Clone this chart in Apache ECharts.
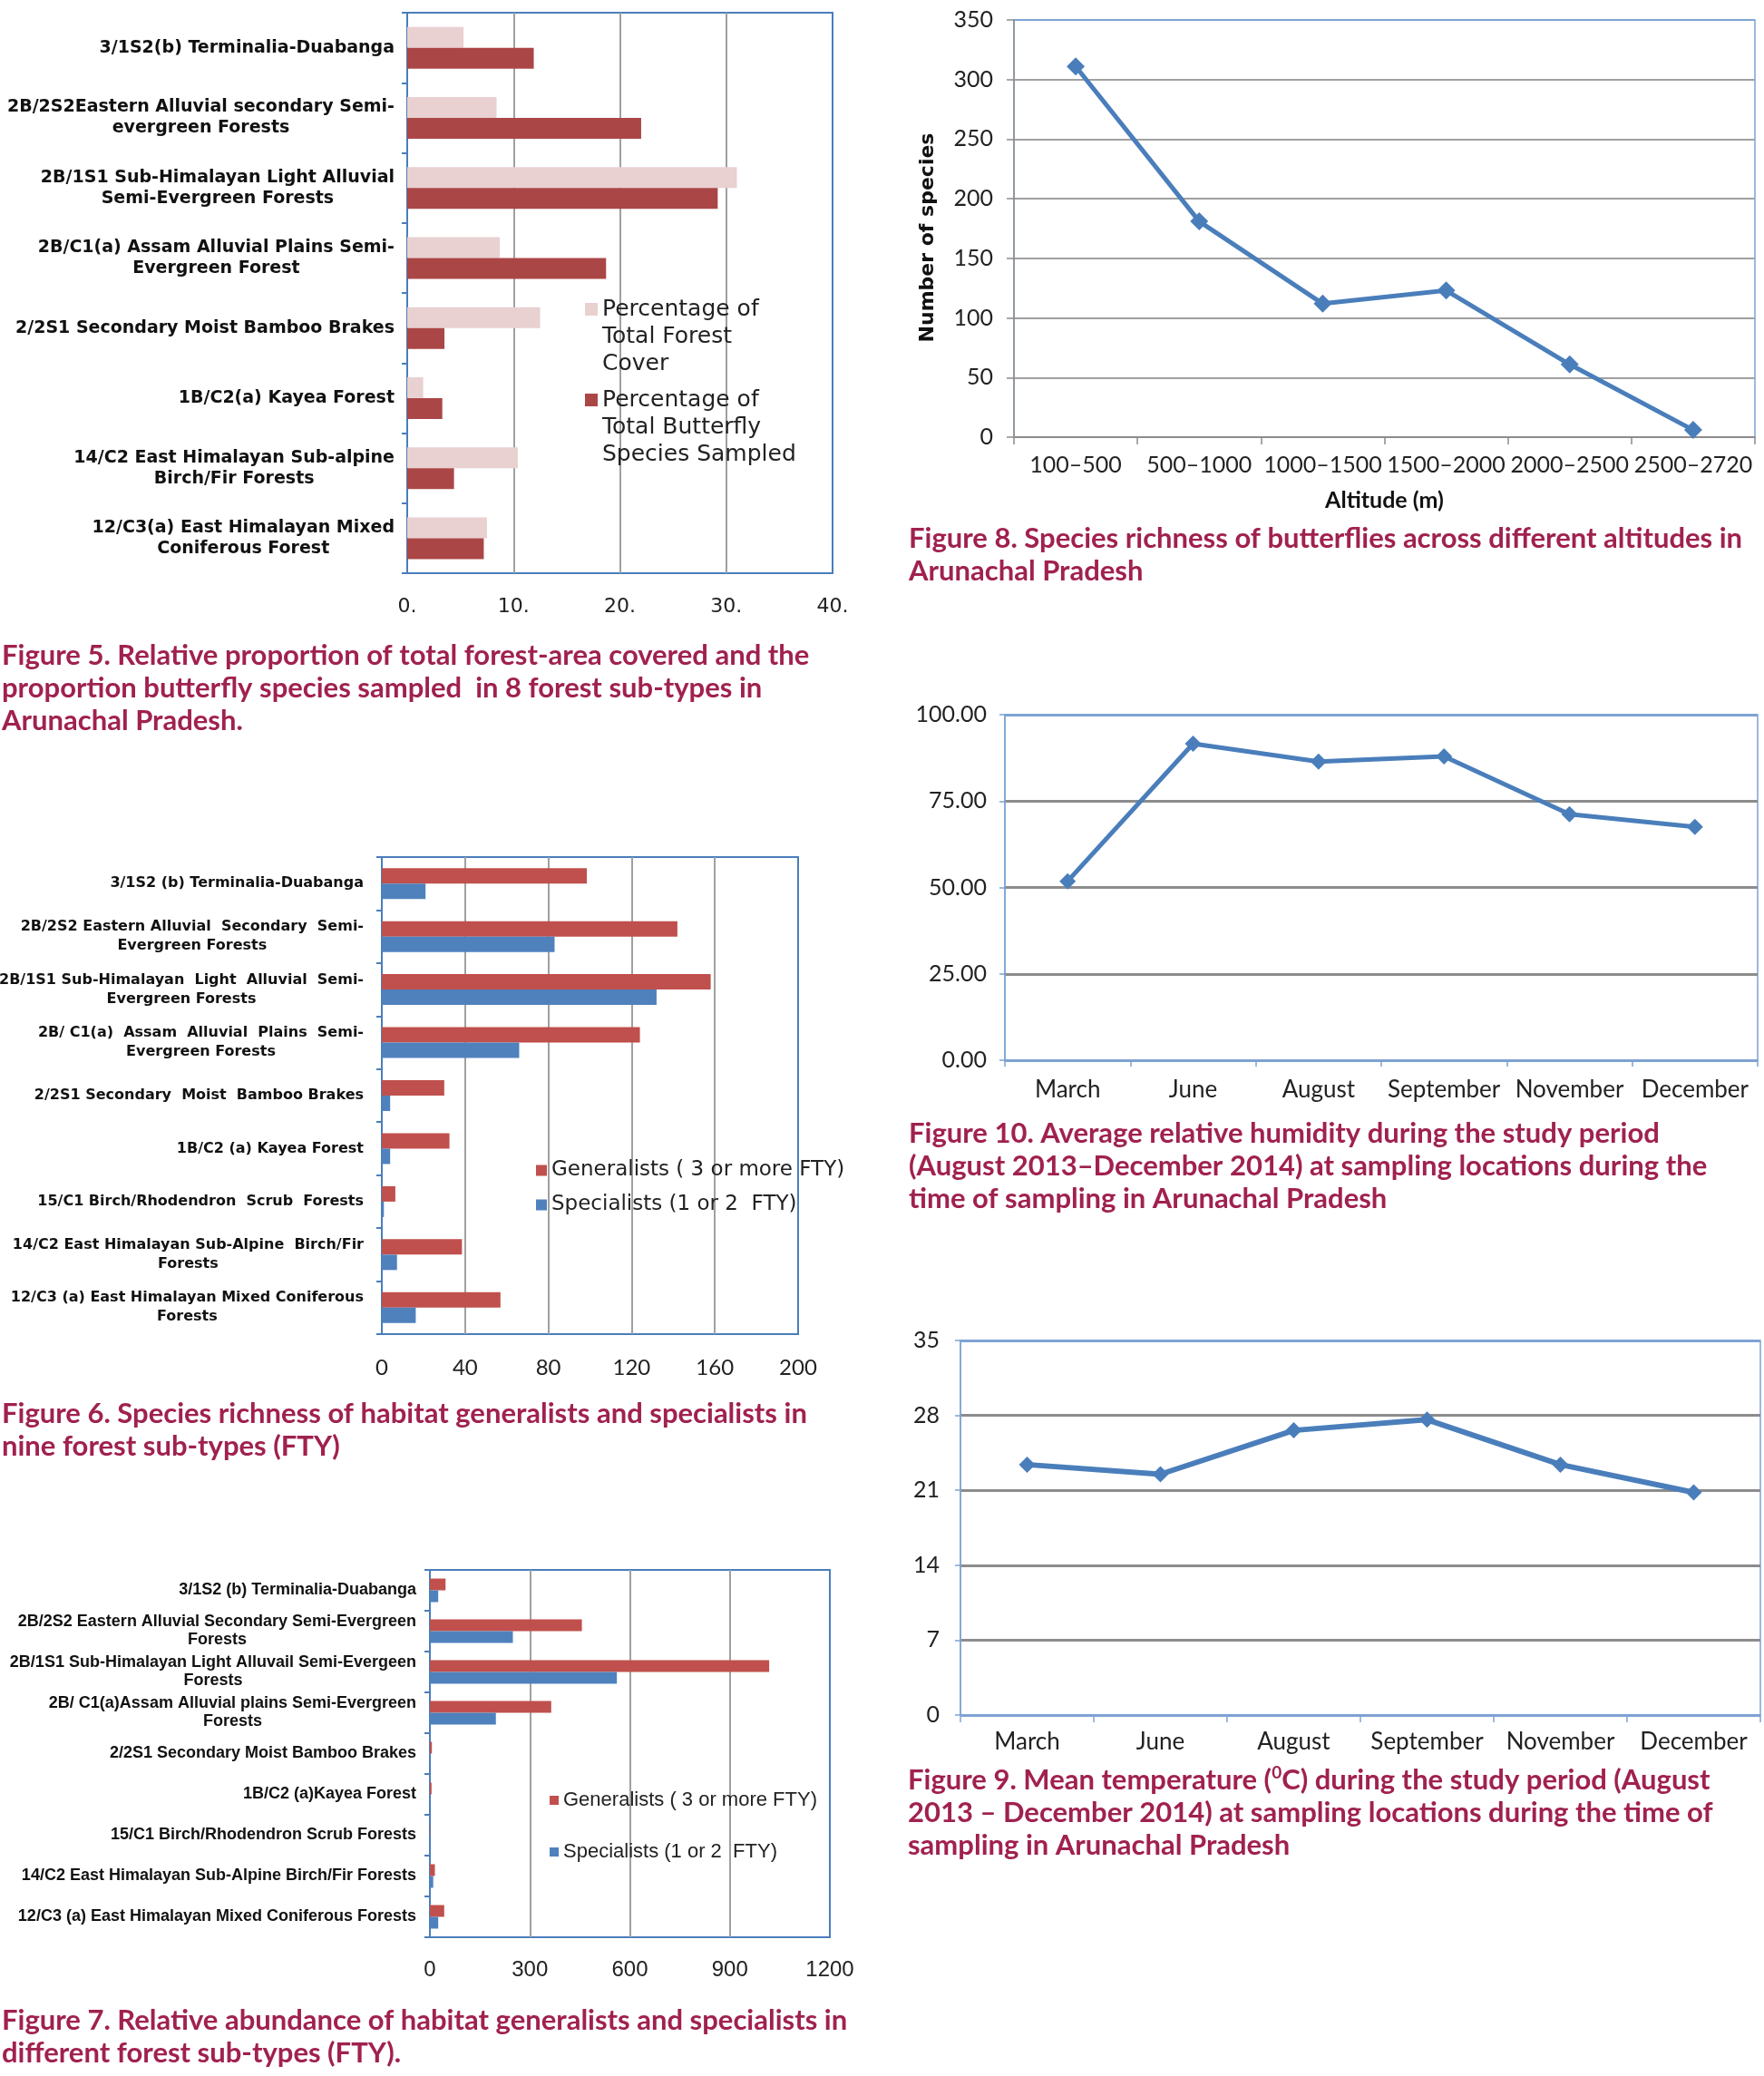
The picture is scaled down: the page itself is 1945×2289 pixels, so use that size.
<!DOCTYPE html>
<html><head><meta charset="utf-8">
<script src="https://cdn.jsdelivr.net/npm/echarts@6/dist/echarts.min.js"></script>
<style>html,body{margin:0;padding:0;background:#fff}#c{width:1945px;height:2289px}</style>
</head><body><div id="c"></div>
<script>
// ---------- DATA ----------
const fig5Cats = [
  '3/1S2(b) Terminalia-Duabanga',
  '2B/2S2Eastern Alluvial secondary Semi-\nevergreen Forests',
  '2B/1S1 Sub-Himalayan Light Alluvial\nSemi-Evergreen Forests',
  '2B/C1(a) Assam Alluvial Plains Semi-\nEvergreen Forest',
  '2/2S1 Secondary Moist Bamboo Brakes',
  '1B/C2(a) Kayea Forest',
  '14/C2 East Himalayan Sub-alpine\nBirch/Fir Forests',
  '12/C3(a) East Himalayan Mixed\nConiferous Forest'
];
const fig5ForestCover = [5.3, 8.4, 31.0, 8.7, 12.5, 1.5, 10.4, 7.5];
const fig5Butterfly   = [11.9, 22.0, 29.2, 18.7, 3.5, 3.3, 4.4, 7.2];
const fig5Names = ['Percentage of\nTotal Forest\nCover', 'Percentage of\nTotal Butterfly\nSpecies Sampled'];

const fig8Cats = ['100\u2013500', '500\u20131000', '1000\u20131500', '1500\u20132000', '2000\u20132500', '2500\u20132720'];
const fig8Species = [311, 181, 112, 123, 61, 6];

const fig6Cats = [
  '3/1S2 (b) Terminalia-Duabanga',
  '2B/2S2 Eastern Alluvial  Secondary  Semi-\nEvergreen Forests',
  '2B/1S1 Sub-Himalayan  Light  Alluvial  Semi-\nEvergreen Forests',
  '2B/ C1(a)  Assam  Alluvial  Plains  Semi-\nEvergreen Forests',
  '2/2S1 Secondary  Moist  Bamboo Brakes',
  '1B/C2 (a) Kayea Forest',
  '15/C1 Birch/Rhodendron  Scrub  Forests',
  '14/C2 East Himalayan Sub-Alpine  Birch/Fir\nForests',
  '12/C3 (a) East Himalayan Mixed Coniferous\nForests'
];
const fig6Generalists = [98.5, 142, 158, 124, 30, 32.5, 6.5, 38.5, 57];
const fig6Specialists = [21, 83, 132, 66, 4, 4, 1, 7.3, 16.3];

const fig7Cats = [
  '3/1S2 (b) Terminalia-Duabanga',
  '2B/2S2 Eastern Alluvial Secondary Semi-Evergreen\nForests',
  '2B/1S1 Sub-Himalayan Light Alluvail Semi-Evergeen\nForests',
  '2B/ C1(a)Assam Alluvial plains Semi-Evergreen\nForests',
  '2/2S1 Secondary Moist Bamboo Brakes',
  '1B/C2 (a)Kayea Forest',
  '15/C1 Birch/Rhodendron Scrub Forests',
  '14/C2 East Himalayan Sub-Alpine Birch/Fir Forests',
  '12/C3 (a) East Himalayan Mixed Coniferous Forests'
];
const fig7Generalists = [47, 456, 1018, 364, 6, 5, 1, 15, 43];
const fig7Specialists = [25, 249, 561, 198, 1, 1, 0, 10, 25];

const genName = 'Generalists ( 3 or more FTY)';
const specName = 'Specialists (1 or 2  FTY)';

const fig10Months = ['March', 'June', 'August', 'September', 'November', 'December'];
const fig10Humidity = [51.8, 91.6, 86.4, 87.9, 71.2, 67.5];

const fig9Months = ['March', 'June', 'August', 'September', 'November', 'December'];
const fig9Temperature = [23.4, 22.5, 26.6, 27.6, 23.4, 20.8];

const captions = {
  f5: 'Figure 5. Relative proportion of total forest-area covered and the\nproportion butterfly species sampled  in 8 forest sub-types in\nArunachal Pradesh.',
  f6: 'Figure 6. Species richness of habitat generalists and specialists in\nnine forest sub-types (FTY)',
  f7: 'Figure 7. Relative abundance of habitat generalists and specialists in\ndifferent forest sub-types (FTY).',
  f8: 'Figure 8. Species richness of butterflies across different altitudes in\nArunachal Pradesh',
  f10: 'Figure 10. Average relative humidity during the study period\n(August 2013\u2013December 2014) at sampling locations during the\ntime of sampling in Arunachal Pradesh',
  f9: 'Figure 9. Mean temperature ({sup|0}C) during the study period (August\n2013 \u2013 December 2014) at sampling locations during the time of\nsampling in Arunachal Pradesh'
};

// ---------- STYLE HELPERS ----------
const BLUE = '#4a7ebb', LBLUE = '#7ea3d3', GRAY = '#a0a0a0', DGRAY = '#8c8c8c';
const CAP = '#a0214f', LINE = '#4a7ebb';
function centered(size, lh, family, weight) {
  return {
    formatter: v => v.split('\n').map(l => '{c|' + l + '}').join('\n'),
    rich: { c: { align: 'center', fontSize: size, lineHeight: lh, fontFamily: family, fontWeight: weight, color: '#111' } }
  };
}
function edgeColors(n, inner, edge) { const a = []; for (let i = 0; i < n; i++) a.push(i === 0 || i === n - 1 ? edge : inner); return a; }
function capTitle(text, left, top) {
  return { text, left, top, padding: 0,
    textStyle: { color: CAP, fontFamily: 'Lato', fontWeight: 'bold', fontSize: 31, lineHeight: 36,
      rich: { sup: { color: CAP, fontFamily: 'Lato', fontWeight: 'bold', fontSize: 19, verticalAlign: 'top', lineHeight: 36, padding: [0, 0, 12, 0] } } } };
}
const lato = 'Lato';
const tickLbl = (size, margin, family) => ({ fontSize: size, margin, fontFamily: family || lato, color: '#222', interval: 0 });
const gridBase = { show: true, containLabel: false, outerBoundsMode: 'none' };

const chart = echarts.init(document.getElementById('c'), null, { renderer: 'canvas' });
const option = {
  backgroundColor: '#fff',
  animation: false,
  title: [
    capTitle(captions.f5, 2, 705),
    capTitle(captions.f6, 2, 1541),
    capTitle(captions.f7, 2, 2210),
    capTitle(captions.f8, 1002, 576),
    capTitle(captions.f10, 1002, 1232),
    capTitle(captions.f9, 1001, 1945)
  ],
  legend: [
    { data: [fig5Names[0]], orient: 'vertical', left: 645, top: 266, padding: 0, icon: 'rect', itemWidth: 14, itemHeight: 14, selectedMode: false,
      formatter: n => '\n\n' + n,
      textStyle: { fontSize: 25, fontFamily: 'DejaVu Sans', color: '#222', lineHeight: 30 } },
    { data: [fig5Names[1]], orient: 'vertical', left: 645, top: 366, padding: 0, icon: 'rect', itemWidth: 14, itemHeight: 14, selectedMode: false,
      formatter: n => '\n\n' + n,
      textStyle: { fontSize: 25, fontFamily: 'DejaVu Sans', color: '#222', lineHeight: 30 } },
    { data: [genName, specName], orient: 'vertical', left: 591, top: 1277, padding: 0, icon: 'rect', itemWidth: 12, itemHeight: 12, itemGap: 11, selectedMode: false,
      textStyle: { fontSize: 23, fontFamily: 'DejaVu Sans', color: '#222', lineHeight: 27 } },
    { data: [genName, specName], orient: 'vertical', left: 606, top: 1973, padding: 0, icon: 'rect', itemWidth: 10, itemHeight: 10, itemGap: 33, selectedMode: false,
      textStyle: { fontSize: 22, fontFamily: 'Liberation Sans', color: '#222', lineHeight: 24 } }
  ],
  grid: [
    Object.assign({ left: 449, top: 14, width: 469, height: 618, borderColor: BLUE, borderWidth: 2 }, gridBase),
    Object.assign({ left: 1118, top: 22, width: 817, height: 460, borderColor: LBLUE, borderWidth: 1.5 }, gridBase),
    Object.assign({ left: 421, top: 945, width: 459, height: 526, borderColor: BLUE, borderWidth: 2 }, gridBase),
    Object.assign({ left: 1108, top: 788, width: 830, height: 381, borderColor: LBLUE, borderWidth: 1.5 }, gridBase),
    Object.assign({ left: 474, top: 1731, width: 441, height: 405, borderColor: BLUE, borderWidth: 2 }, gridBase),
    Object.assign({ left: 1059, top: 1478, width: 882, height: 413, borderColor: LBLUE, borderWidth: 1.5 }, gridBase)
  ],
  xAxis: [
    { gridIndex: 0, type: 'value', min: 0, max: 40, interval: 10,
      axisLine: { show: false }, axisTick: { show: false },
      axisLabel: Object.assign(tickLbl(22, 26, 'DejaVu Sans'), { formatter: v => v + '.' }),
      splitLine: { show: true, lineStyle: { color: edgeColors(5, GRAY, BLUE), width: 2 } } },
    { gridIndex: 1, type: 'category', data: fig8Cats,
      axisLine: { lineStyle: { color: DGRAY, width: 1.5 } }, axisTick: { show: true, length: 8, lineStyle: { color: DGRAY, width: 1.5 } },
      axisLabel: tickLbl(25, 18),
      name: 'Altitude (m)', nameLocation: 'middle', nameGap: 57,
      nameTextStyle: { fontFamily: lato, fontWeight: 'bold', fontSize: 25, color: '#111' } },
    { gridIndex: 2, type: 'value', min: 0, max: 200, interval: 40,
      axisLine: { show: false }, axisTick: { show: false },
      axisLabel: tickLbl(24, 25),
      splitLine: { show: true, lineStyle: { color: edgeColors(6, GRAY, BLUE), width: 2 } } },
    { gridIndex: 3, type: 'category', data: fig10Months,
      axisLine: { lineStyle: { color: LBLUE, width: 1.5 } }, axisTick: { show: true, length: 7, lineStyle: { color: LBLUE, width: 1.5 } },
      axisLabel: tickLbl(26, 20) },
    { gridIndex: 4, type: 'value', min: 0, max: 1200, interval: 300,
      axisLine: { show: false }, axisTick: { show: false },
      axisLabel: Object.assign(tickLbl(24, 24, 'Liberation Sans'), { formatter: v => String(v) }),
      splitLine: { show: true, lineStyle: { color: edgeColors(5, GRAY, BLUE), width: 2 } } },
    { gridIndex: 5, type: 'category', data: fig9Months,
      axisLine: { lineStyle: { color: LBLUE, width: 1.5 } }, axisTick: { show: true, length: 8, lineStyle: { color: LBLUE, width: 1.5 } },
      axisLabel: tickLbl(26, 17) }
  ],
  yAxis: [
    Object.assign({ gridIndex: 0, type: 'category', inverse: true, data: fig5Cats,
      axisLine: { lineStyle: { color: BLUE, width: 2 } }, axisTick: { show: true, length: 6, lineStyle: { color: BLUE, width: 2 } } },
      { axisLabel: Object.assign({ interval: 0, margin: 14 }, centered(19, 23, 'DejaVu Sans', 'bold')) }),
    { gridIndex: 1, type: 'value', min: 0, max: 350, interval: 50,
      axisLine: { show: true, lineStyle: { color: DGRAY, width: 1.5 } }, axisTick: { show: true, length: 8, lineStyle: { color: DGRAY, width: 1.5 } },
      axisLabel: tickLbl(25, 23),
      splitLine: { show: true, lineStyle: { color: edgeColors(8, GRAY, LBLUE).map((c, i) => i === 0 ? DGRAY : c), width: 2 } },
      name: 'Number of species', nameLocation: 'middle', nameGap: 84,
      nameTextStyle: { fontFamily: 'DejaVu Sans', fontWeight: 'bold', fontSize: 22, color: '#111', padding: [0, 20, 0, 0] } },
    Object.assign({ gridIndex: 2, type: 'category', inverse: true, data: fig6Cats,
      axisLine: { lineStyle: { color: BLUE, width: 2 } }, axisTick: { show: true, length: 6, lineStyle: { color: BLUE, width: 2 } } },
      { axisLabel: Object.assign({ interval: 0, margin: 20 }, centered(16, 21, 'DejaVu Sans', 'bold')) }),
    { gridIndex: 3, type: 'value', min: 0, max: 100, interval: 25,
      axisLine: { show: true, lineStyle: { color: LBLUE, width: 1.5 } }, axisTick: { show: true, length: 6, lineStyle: { color: LBLUE, width: 1.5 } },
      axisLabel: Object.assign(tickLbl(25, 20), { formatter: v => v.toFixed(2) }),
      splitLine: { show: true, lineStyle: { color: edgeColors(5, DGRAY, LBLUE), width: 3 } } },
    Object.assign({ gridIndex: 4, type: 'category', inverse: true, data: fig7Cats,
      axisLine: { lineStyle: { color: BLUE, width: 2 } }, axisTick: { show: true, length: 6, lineStyle: { color: BLUE, width: 2 } } },
      { axisLabel: Object.assign({ interval: 0, margin: 15 }, centered(18, 20, 'Liberation Sans', 'bold')) }),
    { gridIndex: 5, type: 'value', min: 0, max: 35, interval: 7,
      axisLine: { show: true, lineStyle: { color: LBLUE, width: 1.5 } }, axisTick: { show: true, length: 6, lineStyle: { color: LBLUE, width: 1.5 } },
      axisLabel: tickLbl(25, 23),
      splitLine: { show: true, lineStyle: { color: edgeColors(6, DGRAY, LBLUE), width: 3 } } }
  ],
  series: [
    { name: fig5Names[0], type: 'bar', xAxisIndex: 0, yAxisIndex: 0, data: fig5ForestCover, barWidth: 23, barGap: '0%', itemStyle: { color: '#e9d0d1' } },
    { name: fig5Names[1], type: 'bar', xAxisIndex: 0, yAxisIndex: 0, data: fig5Butterfly, barWidth: 23, barGap: '0%', itemStyle: { color: '#ab4646' } },
    { name: 'Species richness', type: 'line', xAxisIndex: 1, yAxisIndex: 1, data: fig8Species, symbol: 'diamond', symbolSize: 20,
      lineStyle: { color: LINE, width: 5 }, itemStyle: { color: LINE } },
    { name: genName, type: 'bar', xAxisIndex: 2, yAxisIndex: 2, data: fig6Generalists, barWidth: 17, barGap: '0%', itemStyle: { color: '#c0504d' } },
    { name: specName, type: 'bar', xAxisIndex: 2, yAxisIndex: 2, data: fig6Specialists, barWidth: 17, barGap: '0%', itemStyle: { color: '#4f81bd' } },
    { name: 'Relative humidity', type: 'line', xAxisIndex: 3, yAxisIndex: 3, data: fig10Humidity, symbol: 'diamond', symbolSize: 18,
      lineStyle: { color: LINE, width: 5 }, itemStyle: { color: LINE } },
    { name: genName, type: 'bar', xAxisIndex: 4, yAxisIndex: 4, data: fig7Generalists, barWidth: 13, barGap: '0%', itemStyle: { color: '#c0504d' } },
    { name: specName, type: 'bar', xAxisIndex: 4, yAxisIndex: 4, data: fig7Specialists, barWidth: 13, barGap: '0%', itemStyle: { color: '#4f81bd' } },
    { name: 'Mean temperature', type: 'line', xAxisIndex: 5, yAxisIndex: 5, data: fig9Temperature, symbol: 'diamond', symbolSize: 18,
      lineStyle: { color: LINE, width: 6 }, itemStyle: { color: LINE } }
  ]
};
chart.setOption(option);
</script></body></html>
